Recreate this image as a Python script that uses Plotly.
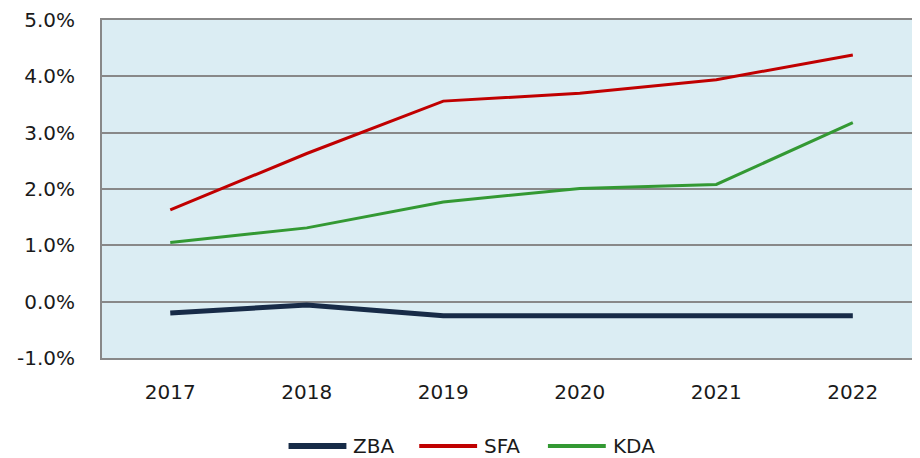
import plotly.graph_objects as go

years = ["2017", "2018", "2019", "2020", "2021", "2022"]
zba = [-0.0020, -0.0006, -0.0025, -0.0025, -0.0025, -0.0025]
sfa = [0.0163, 0.0263, 0.0356, 0.0370, 0.0394, 0.0438]
kda = [0.0105, 0.0131, 0.0177, 0.0201, 0.0208, 0.0318]
y_ticks = [-0.01, 0.0, 0.01, 0.02, 0.03, 0.04, 0.05]
y_labels = ["-1.0%", "0.0%", "1.0%", "2.0%", "3.0%", "4.0%", "5.0%"]

names = ["ZBA", "SFA", "KDA"]
colors = ["#172B47", "#C00000", "#339933"]
widths = [5, 3, 3]

FONT = dict(family="DejaVu Sans, sans-serif", size=20, color="#1a1a1a")

MARGIN_L = 94
PLOT_W = 832   # plot runs slightly past the right edge of the window
PLOT_H = 338

fig = go.Figure()
for name, vals, col, w in zip(names, [zba, sfa, kda], colors, widths):
    fig.add_trace(go.Scatter(x=years, y=vals, mode="lines", name=name,
                             line=dict(color=col, width=w)))

# legend drawn by hand so the line samples are long like in the original
def px(x):
    # window pixel -> paper fraction (plot starts at ~103px in the window)
    return (x - 103) / PLOT_W

leg_y = -88 / PLOT_H
leg_starts = [290, 421, 550]
for name, col, w, x0 in zip(names, colors, widths, leg_starts):
    fig.add_shape(type="line", xref="paper", yref="paper",
                  x0=px(x0), x1=px(x0 + 58), y0=leg_y, y1=leg_y,
                  line=dict(color=col, width=w + 1))
    fig.add_annotation(xref="paper", yref="paper", x=px(x0 + 63), y=leg_y,
                       text=name, showarrow=False, xanchor="left", yanchor="middle",
                       font=FONT)

fig.update_layout(
    width=MARGIN_L + PLOT_W,
    height=12 + PLOT_H + 100,
    margin=dict(l=MARGIN_L, r=0, t=12, b=100),
    plot_bgcolor="#DBEDF3",
    paper_bgcolor="white",
    font=FONT,
    showlegend=False,
)
fig.update_xaxes(
    type="category", range=[-0.5, 5.58],
    showgrid=False,
    showline=True, linecolor="#888888", linewidth=2, mirror=True,
    ticks="", ticklabelstandoff=15,
)
fig.update_yaxes(
    range=[-0.01, 0.05], tickvals=y_ticks, ticktext=y_labels,
    showgrid=True, gridcolor="#888888", gridwidth=2,
    showline=True, linecolor="#888888", linewidth=2, mirror=True,
    zeroline=False, ticks="", ticklabelstandoff=21,
)

fig.write_html("out.html")
